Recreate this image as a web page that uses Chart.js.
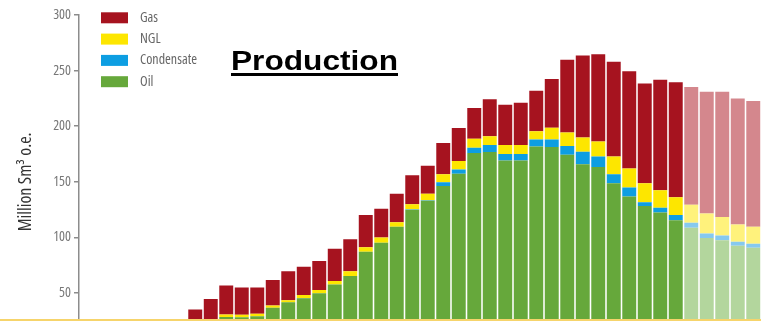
<!DOCTYPE html>
<html>
<head>
<meta charset="utf-8">
<script src="https://cdn.jsdelivr.net/npm/chart.js@4.4.1/dist/chart.umd.min.js"></script>
<style>
  html, body { margin: 0; padding: 0; background: #fff; overflow: hidden; }
  #wrap { position: relative; width: 761px; height: 321px; overflow: hidden; }
  #baseline { position: absolute; left: 0; top: 319px; width: 761px; height: 2px; background: #f6d46b; }
</style>
</head>
<body>
<div id="wrap">
  <canvas id="production" width="761" height="360"></canvas>
  <div id="baseline"></div>
</div>
<script>
// yearly production, million Sm3 o.e.
var years = [1971, 1972, 1973, 1974, 1975, 1976, 1977, 1978, 1979, 1980,
             1981, 1982, 1983, 1984, 1985, 1986, 1987, 1988, 1989, 1990,
             1991, 1992, 1993, 1994, 1995, 1996, 1997, 1998, 1999, 2000,
             2001, 2002, 2003, 2004, 2005, 2006, 2007, 2008, 2009, 2010,
             2011, 2012, 2013, 2014];
var forecastFrom = 2010;

var oil = [0.4, 1.9, 1.9, 2.0, 11.0, 16.2, 16.6, 18.5, 20.0, 28.5,
           28.2, 29.0, 36.7, 41.7, 45.3, 49.7, 57.7, 65.4, 87.1, 95.3,
           109.6, 124.7, 133.0, 146.3, 157.3, 176.0, 176.8, 169.1, 169.1, 181.8,
           181.3, 174.4, 165.8, 163.2, 148.7, 136.8, 128.2, 122.3, 115.5, 108.7,
           99.5, 97.4, 92.4, 90.6];
var condensate = [0, 0, 0, 0, 0, 0, 0, 0, 0, 0,
                  0, 0, 0, 0, 0.3, 0, 0, 0, 0, 0,
                  0, 0.4, 0.5, 3.3, 3.8, 4.7, 6.3, 6.0, 6.0, 6.2,
                  6.7, 7.8, 11.3, 9.5, 8.0, 8.0, 3.3, 4.4, 4.7, 4.4,
                  4.1, 4.4, 3.6, 3.6];
var ngl = [0, 0, 0, 0, 0, 0, 0.1, 1.5, 2.0, 2.2,
           2.2, 2.3, 2.0, 1.8, 2.6, 3.0, 3.2, 4.2, 4.1, 4.5,
           4.1, 4.6, 5.7, 7.1, 7.7, 8.0, 7.9, 8.0, 8.0, 7.5,
           10.7, 12.1, 12.7, 13.6, 16.0, 17.2, 17.1, 15.7, 15.8, 16.3,
           17.8, 16.6, 15.6, 15.4];
var gas = [0, 0, 0, 0, 0, 0, 2.9, 15.2, 22.7, 26.1,
           24.6, 23.7, 23.1, 26.1, 25.5, 26.0, 28.8, 28.7, 29.0, 26.0,
           25.5, 26.3, 25.2, 28.1, 29.6, 27.6, 33.2, 36.1, 37.9, 36.3,
           43.7, 65.5, 73.8, 78.5, 85.3, 87.4, 89.8, 99.3, 103.6, 105.8,
           109.6, 112.6, 113.2, 113.1];

var yTicks = [0, 50, 100, 150, 200, 250, 300];

var FONT = "'Open Sans', sans-serif";
// 'condensed' goes into the weight slot so the font string picks the condensed face
var NARROW = 'condensed';

// solid colour for history, washed-out colour for the forecast years
function shade(solid, light) {
  return years.map(function (y) { return y >= forecastFrom ? light : solid; });
}

var series = [
  { label: 'Oil', data: oil, solid: '#66a83b', light: '#b3d69d' },
  { label: 'Condensate', data: condensate, solid: '#0d9ee2', light: '#86c9ef' },
  { label: 'NGL', data: ngl, solid: '#fde600', light: '#fff27c' },
  { label: 'Gas', data: gas, solid: '#a6131f', light: '#d4878d' }
];

var datasets = series.map(function (s) {
  return {
    label: s.label,
    data: s.data,
    backgroundColor: shade(s.solid, s.light),
    swatch: s.solid,
    borderWidth: 0,
    barPercentage: 0.9,
    categoryPercentage: 1.0
  };
});

// legend in the upper left, top entry = top of the stack
var legendBox = {
  id: 'legendBox',
  afterDraw: function (chart) {
    var ctx = chart.ctx;
    var list = chart.data.datasets.slice().reverse();
    ctx.save();
    ctx.font = NARROW + ' 14px ' + FONT;
    ctx.textBaseline = 'middle';
    list.forEach(function (ds, i) {
      var y = 12.3 + i * 21.3;
      ctx.fillStyle = ds.swatch;
      ctx.fillRect(101, y, 27, 11);
      ctx.fillStyle = '#666';
      ctx.fillText(ds.label, 140, y + 5.5);
    });
    ctx.restore();
  }
};

// underlined heading
var heading = {
  id: 'heading',
  afterDraw: function (chart) {
    var ctx = chart.ctx;
    var text = 'Production';
    ctx.save();
    ctx.font = "bold 27px 'Liberation Sans', Arial, sans-serif";
    var w = ctx.measureText(text).width;
    ctx.translate(231, 69.5);
    ctx.scale(167 / w, 1);
    ctx.fillStyle = '#000';
    ctx.textBaseline = 'alphabetic';
    ctx.fillText(text, 0, 0);
    ctx.restore();
    ctx.fillStyle = '#000';
    ctx.fillRect(231, 73, 167, 3);
  }
};

new Chart(document.getElementById('production'), {
  type: 'bar',
  data: { labels: years, datasets: datasets },
  options: {
    responsive: false,
    animation: false,
    layout: { padding: { top: 15, bottom: 7.75, left: 0, right: 0 } },
    plugins: {
      legend: { display: false },
      tooltip: { enabled: false }
    },
    scales: {
      x: {
        stacked: true,
        display: false
      },
      y: {
        stacked: true,
        min: 0,
        max: 300,
        afterFit: function (scale) { scale.width = 79; },
        afterBuildTicks: function (scale) {
          scale.ticks = yTicks.map(function (v) { return { value: v }; });
        },
        ticks: {
          padding: 3,
          color: '#777',
          font: { family: FONT, size: 14, weight: NARROW }
        },
        grid: {
          drawOnChartArea: false,
          drawTicks: true,
          tickLength: 5,
          color: '#8c8c8c',
          lineWidth: 1.5
        },
        border: { display: true, color: '#8c8c8c', width: 1.5 },
        title: {
          display: true,
          text: 'Million Sm³ o.e.',
          color: '#333',
          font: { family: FONT, size: 18, weight: NARROW },
          padding: { top: 15, bottom: 0 }
        }
      }
    }
  },
  plugins: [legendBox, heading]
});
</script>
</body>
</html>
